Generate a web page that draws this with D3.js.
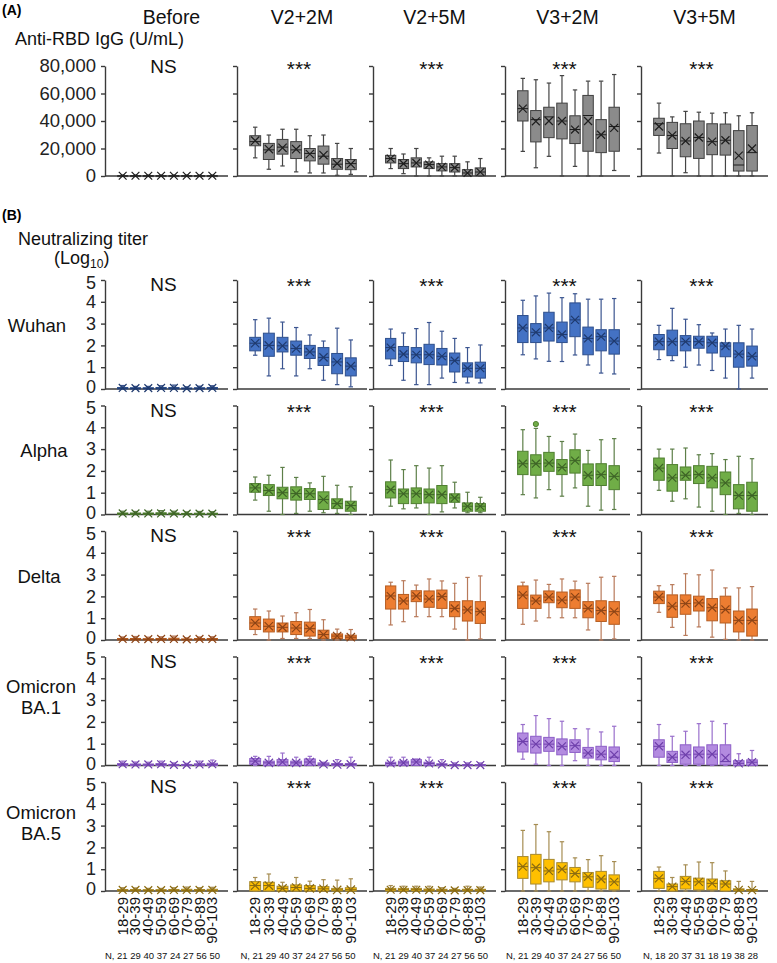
<!DOCTYPE html>
<html><head><meta charset="utf-8">
<script src="https://cdn.jsdelivr.net/npm/d3@7"></script>
<style>body{margin:0;background:#fff} svg{font-family:Arial,"Liberation Sans",sans-serif}</style>
</head><body><svg id="c" width="777" height="963"></svg>
<script>
// ---------- data ----------
const ageGroups = ["18-29","30-39","40-49","50-59","60-69","70-79","80-89","90-103"];
const timepoints = ["Before","V2+2M","V2+5M","V3+2M","V3+5M"];
const significance = ["NS","***","***","***","***"];
const nLabels = ["N, 21 29 40 37 24 27 56 50","N, 21 29 40 37 24 27 56 50","N, 21 29 40 37 24 27 56 50","N, 21 29 40 37 24 27 56 50","N, 18 20 37 31 18 19 38 28"];
const rbdTicks = [0,20000,40000,60000,80000];
const titerTicks = [0,1,2,3,4,5];
const variants = [["Wuhan"],["Alpha"],["Delta"],["Omicron","BA.1"],["Omicron","BA.5"]];
// each box: [whiskerLow, Q1, median, Q3, whiskerHigh, mean]
const rbd = [
 [[0,0,100,300,700,200],[0,0,100,300,700,200],[0,0,100,300,700,200],[0,0,100,300,700,200],[0,0,100,300,700,200],[0,0,100,300,700,200],[0,0,100,300,700,200],[0,0,100,300,700,200]],
 [[13200,22000,25000,29300,35500,25700],[4900,12000,19000,23700,29800,19600],[7300,15900,21000,26600,34000,20500],[3000,12700,19000,25000,34000,19500],[2200,11000,16400,20000,29300,16000],[2200,8600,14400,21800,29800,15200],[500,4900,8600,12700,23700,9000],[1200,4600,9000,12000,20000,8600]],
 [[5400,9500,12700,15000,20000,12700],[1700,5400,9000,12000,16000,9000],[0,6600,9500,13200,20000,9500],[0,5400,8300,10300,13200,8300],[0,3700,6600,9000,14400,6600],[0,2900,6100,9000,14400,6100],[0,200,2200,4600,10300,2200],[0,200,2900,5900,12700,2900]],
 [[17900,40000,49000,62000,71000,49000],[6000,24800,41000,47600,70000,39800],[14300,27900,43000,50000,67600,40000],[0,27000,40000,53000,73000,40000],[7000,23600,33800,43800,62600,33800],[0,18000,44000,58600,69000,40000],[0,17000,30000,41000,69000,30000],[4000,18000,36000,50000,73800,35000]],
 [[16700,29500,38000,42000,53000,36000],[0,20000,29500,39000,43000,29500],[2400,14000,25500,38000,47000,25500],[0,12800,28000,40000,46400,28000],[0,15500,25000,38000,45700,25000],[0,15200,26000,37800,46000,26000],[0,3600,8000,33000,43800,14800],[0,3600,17000,36700,46000,20000]]
];
const wuhan = [
 [[0,0,0.03,0.07,0.16,0.05],[0,0,0.02,0.06,0.12,0.04],[0,0,0.02,0.06,0.12,0.04],[0,0,0.03,0.07,0.15,0.05],[0,0,0.03,0.07,0.18,0.05],[0,0,0.02,0.05,0.1,0.03],[0,0,0.02,0.06,0.13,0.04],[0,0,0.03,0.07,0.15,0.05]],
 [[1.55,1.75,2.1,2.37,3.18,2.1],[0.6,1.5,2.0,2.56,3.25,2.0],[0.93,1.7,1.98,2.37,3.07,1.98],[0.6,1.55,1.86,2.2,2.82,1.86],[0.93,1.4,1.7,2.0,2.48,1.7],[0.4,1.08,1.45,1.9,2.2,1.45],[0.2,0.7,1.24,1.63,2.79,1.24],[0.1,0.6,1.05,1.43,2.25,1.05]],
 [[1.08,1.38,1.9,2.32,2.75,1.9],[0.4,1.26,1.6,1.95,2.57,1.6],[0.2,1.2,1.57,1.9,2.77,1.57],[0.2,1.12,1.57,2.05,3.05,1.57],[0.5,1.1,1.5,1.86,2.65,1.5],[0.3,0.78,1.3,1.65,2.32,1.3],[0.28,0.55,0.95,1.2,1.9,0.95],[0.28,0.5,0.95,1.23,2.02,0.95]],
 [[1.57,2.13,2.8,3.37,4.07,2.8],[1.38,2.13,2.6,3.0,4.27,2.6],[1.27,2.2,2.8,3.52,4.4,2.8],[1.26,2.13,2.5,3.07,4.19,2.5],[1.56,2.4,3.17,3.95,4.37,3.17],[1.1,1.57,2.32,2.84,4.12,2.32],[0.73,1.75,2.4,2.72,4.12,2.4],[0.69,1.6,2.2,2.72,4.15,2.2]],
 [[1.35,1.8,2.17,2.5,2.92,2.17],[1.3,1.53,2.17,2.7,3.7,2.17],[1.0,1.75,2.17,2.45,3.2,2.17],[1.1,1.87,2.17,2.42,2.95,2.17],[0.85,1.65,2.12,2.42,2.57,2.12],[0.5,1.48,1.97,2.12,2.75,1.97],[0,1.0,1.6,2.12,2.92,1.6],[0.5,1.05,1.5,1.97,2.75,1.5]]
];
const alpha = [
 [[0,0,0.03,0.07,0.15,0.05],[0,0,0.03,0.07,0.14,0.05],[0,0,0.03,0.07,0.15,0.05],[0,0,0.03,0.08,0.18,0.05],[0,0,0.03,0.07,0.15,0.05],[0,0,0.02,0.05,0.12,0.04],[0,0,0.02,0.06,0.14,0.04],[0,0,0.02,0.06,0.13,0.04]],
 [[0.66,1.02,1.22,1.42,1.72,1.22],[0.15,0.87,1.1,1.37,1.8,1.1],[0,0.72,1.0,1.25,2.16,1.0],[0.05,0.66,0.96,1.27,1.7,0.96],[0.15,0.69,0.95,1.19,1.45,0.95],[0.08,0.23,0.69,1.04,1.75,0.69],[0.05,0.27,0.5,0.72,1.34,0.5],[0,0.15,0.41,0.61,1.27,0.41]],
 [[0.38,0.76,1.14,1.5,2.5,1.14],[0.26,0.5,0.95,1.17,2.06,0.95],[0.3,0.5,0.95,1.22,2.24,0.95],[0,0.53,0.91,1.17,2.13,0.91],[0.12,0.5,0.91,1.33,2.24,0.91],[0.3,0.56,0.76,0.95,1.48,0.76],[0.08,0.15,0.38,0.53,1.02,0.38],[0.08,0.15,0.38,0.5,0.79,0.38]],
 [[0.91,1.83,2.33,2.9,3.89,2.33],[0.76,1.8,2.33,2.74,3.95,2.33],[1.14,1.98,2.36,2.85,3.58,2.36],[0.84,1.83,2.16,2.52,3.35,2.16],[1.22,1.9,2.47,2.97,3.69,2.47],[0.38,1.33,1.8,2.32,2.94,1.8],[0.2,1.33,1.83,2.33,3.43,1.83],[0.23,1.14,1.75,2.24,3.48,1.75]],
 [[1.11,1.57,2.13,2.59,3.0,2.13],[0.61,1.07,1.68,2.29,3.0,1.68],[0.72,1.57,1.8,2.18,3.05,1.8],[0.34,1.42,1.83,2.24,2.74,1.83],[0.15,1.22,1.68,2.21,2.79,1.68],[0,0.91,1.45,1.95,2.52,1.45],[0.05,0.26,0.87,1.37,2.67,0.87],[0,0.15,0.87,1.48,2.56,0.87]]
];
const delta = [
 [[0,0,0.03,0.07,0.14,0.05],[0,0,0.03,0.07,0.16,0.05],[0,0,0.03,0.06,0.13,0.04],[0,0,0.03,0.07,0.15,0.05],[0,0,0.03,0.08,0.18,0.05],[0,0,0.02,0.05,0.1,0.03],[0,0,0.03,0.07,0.14,0.05],[0,0,0.03,0.07,0.15,0.05]],
 [[0.25,0.48,0.78,1.07,1.42,0.78],[0,0.37,0.63,0.96,1.33,0.63],[0.07,0.37,0.58,0.78,1.1,0.58],[0.07,0.25,0.55,0.85,1.25,0.55],[0.07,0.18,0.52,0.82,1.4,0.52],[0,0.07,0.25,0.45,0.93,0.25],[0,0.07,0.18,0.28,0.5,0.18],[0,0.03,0.13,0.22,0.48,0.13]],
 [[0.69,1.42,2.02,2.48,2.65,2.02],[0.84,1.42,1.79,2.09,2.72,1.79],[1.07,1.76,2.02,2.26,2.52,2.02],[1.07,1.5,1.88,2.25,2.8,1.88],[1.07,1.45,1.99,2.29,2.71,1.99],[0.5,1.07,1.45,1.76,2.6,1.45],[0,0.87,1.38,1.8,2.87,1.38],[0.05,0.76,1.3,1.76,2.94,1.3]],
 [[0.72,1.45,2.06,2.48,2.65,2.06],[0.87,1.45,1.79,2.06,2.75,1.79],[1.02,1.71,1.97,2.25,2.55,1.97],[1.02,1.48,1.83,2.2,2.8,1.83],[1.02,1.45,1.97,2.3,2.7,1.97],[0.46,1.02,1.45,1.76,2.6,1.45],[0,0.85,1.35,1.8,2.88,1.35],[0.05,0.72,1.3,1.76,2.92,1.3]],
 [[1.27,1.67,1.97,2.24,2.49,1.97],[0.58,1.04,1.55,2.07,2.54,1.55],[0.21,1.18,1.67,2.07,3.04,1.67],[0.6,1.33,1.7,2.01,2.99,1.7],[0.13,0.88,1.48,1.9,3.21,1.48],[0.03,0.78,1.4,2.01,2.39,1.4],[0,0.37,0.9,1.33,2.39,0.9],[0,0.18,0.9,1.42,2.45,0.9]]
];
const ba1 = [
 [[0,0,0.04,0.09,0.2,0.06],[0,0,0.03,0.07,0.16,0.05],[0,0,0.03,0.07,0.15,0.05],[0,0,0.04,0.09,0.2,0.06],[0,0,0.02,0.05,0.12,0.03],[0,0,0.02,0.05,0.1,0.03],[0,0,0.03,0.08,0.2,0.05],[0,0,0.04,0.1,0.25,0.06]],
 [[0,0.05,0.2,0.32,0.42,0.2],[0,0,0.12,0.2,0.42,0.12],[0,0,0.16,0.27,0.57,0.16],[0,0,0.12,0.2,0.38,0.12],[0,0,0.16,0.3,0.42,0.16],[0,0,0.06,0.12,0.15,0.06],[0,0,0.05,0.09,0.27,0.05],[0,0,0.05,0.09,0.38,0.05]],
 [[0,0,0.09,0.15,0.38,0.09],[0,0,0.12,0.2,0.38,0.12],[0,0,0.16,0.27,0.3,0.16],[0,0,0.09,0.15,0.38,0.09],[0,0,0.05,0.08,0.27,0.05],[0,0,0.02,0.04,0.12,0.02],[0,0,0.02,0.04,0.12,0.02],[0,0,0.02,0.04,0.12,0.02]],
 [[0.29,0.62,1.1,1.49,1.88,1.1],[0.06,0.57,0.98,1.34,2.29,0.98],[0,0.65,0.98,1.29,2.15,0.98],[0,0.49,0.88,1.22,2.03,0.88],[0.22,0.6,0.91,1.18,1.69,0.91],[0,0.34,0.57,0.83,1.68,0.57],[0,0.26,0.52,0.88,1.54,0.52],[0,0.18,0.38,0.85,1.8,0.49]],
 [[0,0.38,0.88,1.18,1.88,0.88],[0,0.14,0.38,0.65,1.34,0.38],[0,0.06,0.49,0.95,1.57,0.49],[0,0.06,0.52,0.85,1.92,0.52],[0,0.03,0.52,0.95,2.03,0.52],[0,0.03,0.18,0.95,1.92,0.35],[0,0,0.1,0.22,0.54,0.1],[0,0,0.15,0.26,0.69,0.15]]
];
const ba5 = [
 [[0,0,0.03,0.07,0.15,0.05],[0,0,0.03,0.07,0.14,0.05],[0,0,0.03,0.06,0.12,0.04],[0,0,0.03,0.06,0.12,0.04],[0,0,0.03,0.07,0.15,0.05],[0,0,0.03,0.08,0.18,0.05],[0,0,0.03,0.07,0.15,0.05],[0,0,0.03,0.08,0.17,0.05]],
 [[0,0,0.25,0.43,0.62,0.25],[0,0,0.25,0.4,0.78,0.25],[0,0,0.12,0.22,0.4,0.12],[0,0,0.16,0.28,0.62,0.16],[0,0,0.12,0.25,0.45,0.12],[0,0,0.1,0.2,0.52,0.1],[0,0,0.05,0.12,0.5,0.05],[0,0,0.06,0.15,0.56,0.06]],
 [[0,0,0.06,0.12,0.25,0.06],[0,0,0.06,0.12,0.22,0.06],[0,0,0.06,0.12,0.22,0.06],[0,0,0.04,0.09,0.22,0.04],[0,0,0.04,0.08,0.15,0.04],[0,0,0.03,0.06,0.12,0.03],[0,0,0.04,0.08,0.22,0.04],[0,0,0.04,0.08,0.18,0.04]],
 [[0,0.58,1.12,1.58,2.78,1.12],[0,0.32,1.07,1.68,3.05,1.07],[0,0.42,0.92,1.45,2.72,0.92],[0,0.51,1.0,1.3,2.26,1.0],[0,0.42,0.8,1.08,1.52,0.8],[0,0.17,0.65,0.85,1.44,0.65],[0,0.09,0.55,0.9,1.62,0.55],[0,0.05,0.42,0.74,1.35,0.42]],
 [[0,0.12,0.58,0.9,1.1,0.58],[0,0,0.2,0.32,0.62,0.2],[0,0.09,0.44,0.67,1.2,0.44],[0,0.05,0.42,0.59,1.33,0.42],[0,0.05,0.35,0.55,1.3,0.35],[0,0,0.32,0.47,0.92,0.32],[0,0,0.05,0.1,0.44,0.05],[0,0,0.04,0.07,0.44,0.04]]
];
const titerRows = [wuhan, alpha, delta, ba1, ba5];
// outlier: [row index, timepoint index, age index, value]
const outliers = [[1,3,1,4.15]];

// ---------- styles / layout ----------
const grayPal = {fill:"#8b8b8b", stroke:"#3f3f3f", whisker:"#444", mark:"#1e1e1e"};
const rowPal = [
 {fill:"#4472c4", stroke:"#2e4f8c", whisker:"#3b5590", mark:"#1f3a6e"},
 {fill:"#70ad47", stroke:"#4f7f30", whisker:"#5d7f48", mark:"#3d6326"},
 {fill:"#ed7d31", stroke:"#b55d22", whisker:"#b87a5a", mark:"#8c4416"},
 {fill:"#b38be0", stroke:"#8d5fc7", whisker:"#9a70cc", mark:"#6e3fab"},
 {fill:"#ffc000", stroke:"#a88a2e", whisker:"#a68d52", mark:"#8a6a10"}
];
const px0 = [105,237,373,505,641], px1 = [228,367,496,630,768];
const axisColor = "#3a3a3a";
const svg = d3.select("#c");

function panel(stats, y, i, pal, sig, ticks, fmt, isA) {
  const g = svg.append("g");
  const x = d3.scaleBand().domain(ageGroups).range([px0[i]+10, px1[i]-8]).paddingInner(0.2).paddingOuter(0.2);
  const bw = x.bandwidth();
  const ax = d3.axisLeft(y).tickValues(ticks).tickSize(4).tickSizeOuter(0).tickPadding(5)
     .tickFormat(i===0 ? fmt : "");
  const ga = g.append("g").attr("transform",`translate(${px0[i]},0)`).call(ax);
  ga.selectAll("path,line").attr("stroke",axisColor).attr("stroke-width",1.4);
  ga.selectAll("text").attr("font-size", isA ? 18.5 : 18).attr("fill","#222")
    .attr("font-family","Arial, Liberation Sans, sans-serif")
    .attr("dy", d => isA ? "0.32em" : (d===0 ? "0.22em" : (d===5 ? "0.45em" : "0.32em")));
  g.append("line").attr("x1",px0[i]).attr("x2",px1[i]).attr("y1",y(0)).attr("y2",y(0))
    .attr("stroke",axisColor).attr("stroke-width",1.5);
  stats.forEach((d,k)=>{
    const cx = x(ageGroups[k]) + bw/2;
    const [lo,q1,med,q3,hi,mean] = d;
    const bg = g.append("g");
    bg.append("line").attr("x1",cx).attr("x2",cx).attr("y1",y(hi)).attr("y2",y(q3)).attr("stroke",pal.whisker).attr("stroke-width",1.2);
    bg.append("line").attr("x1",cx).attr("x2",cx).attr("y1",y(q1)).attr("y2",y(lo)).attr("stroke",pal.whisker).attr("stroke-width",1.2);
    [hi,lo].forEach(v=>bg.append("line").attr("x1",cx-2.2).attr("x2",cx+2.2).attr("y1",y(v)).attr("y2",y(v)).attr("stroke",pal.whisker).attr("stroke-width",1.2));
    const top = y(q3), h = Math.max(y(q1)-y(q3), 1);
    bg.append("rect").attr("x",cx-bw/2).attr("y",top).attr("width",bw).attr("height",h)
      .attr("fill",pal.fill).attr("stroke",pal.stroke).attr("stroke-width",1);
    bg.append("line").attr("x1",cx-bw/2).attr("x2",cx+bw/2).attr("y1",y(med)).attr("y2",y(med)).attr("stroke",pal.mark).attr("stroke-width",1);
    const s = bw*0.38, my = y(mean);
    bg.append("path").attr("d",`M${cx-s},${my-s}L${cx+s},${my+s}M${cx-s},${my+s}L${cx+s},${my-s}`)
      .attr("stroke",pal.mark).attr("stroke-width",1.2).attr("fill","none");
  });
  const top = y.range()[1];
  const cxp = (px0[i]+px1[i])/2;
  if (i===0) {
    g.append("text").attr("x",cxp-3).attr("y", isA ? top+7 : top+11)
      .attr("text-anchor","middle").attr("font-size",19).attr("fill","#111").text(sig);
  } else {
    g.append("text").attr("x",cxp-3).attr("y", isA ? top+10 : top+13)
      .attr("text-anchor","middle").attr("font-size",21).attr("fill","#111").text(sig);
  }
  return x;
}

// ---------- header ----------
svg.append("text").attr("x",2).attr("y",15).attr("font-size",14).attr("font-weight","bold").text("(A)");
timepoints.forEach((t,i)=>svg.append("text").attr("x",(px0[i]+px1[i])/2 + (i===0?5:0)).attr("y",24)
  .attr("text-anchor","middle").attr("font-size",19.5).attr("fill","#111").text(t));
svg.append("text").attr("x",15).attr("y",45).attr("font-size",18).attr("fill","#111").text("Anti-RBD IgG (U/mL)");

// ---------- panel A ----------
const yA = d3.scaleLinear().domain([0,80000]).range([176,66]);
rbd.forEach((st,i)=>panel(st, yA, i, grayPal, significance[i], rbdTicks, d3.format(","), true));

// ---------- panel B ----------
svg.append("text").attr("x",2).attr("y",220).attr("font-size",14).attr("font-weight","bold").text("(B)");
svg.append("text").attr("x",18).attr("y",245).attr("font-size",18).attr("fill","#111").text("Neutralizing titer");
const lg = svg.append("text").attr("x",54).attr("y",264).attr("font-size",18).attr("fill","#111");
lg.append("tspan").text("(Log");
lg.append("tspan").attr("font-size",12).attr("dy",4).text("10");
lg.append("tspan").attr("dy",-4).text(")");

const rowLabelX = [37,44,39,41,41];
titerRows.forEach((row,r)=>{
  const top = 280 + r*125.5;
  const y = d3.scaleLinear().domain([0,5]).range([top+109, top]);
  const xs = row.map((st,i)=>panel(st, y, i, rowPal[r], significance[i], titerTicks, d3.format("d"), false));
  const lines = variants[r];
  const cy = y(3) + (lines.length===1 ? 8 : -1);
  lines.forEach((t,j)=>svg.append("text").attr("x",rowLabelX[r]).attr("y", cy + j*21 - (lines.length-1)*6)
    .attr("text-anchor","middle").attr("font-size",18.5).attr("fill","#111").text(t));
  outliers.filter(o=>o[0]===r).forEach(o=>{
    const x = xs[o[1]];
    svg.append("circle").attr("cx",x(ageGroups[o[2]])+x.bandwidth()/2).attr("cy",y(o[3])).attr("r",2.6)
      .attr("fill",rowPal[r].fill).attr("stroke",rowPal[r].stroke).attr("stroke-width",1);
  });
  if (r===titerRows.length-1) {
    xs.forEach((x,i)=>{
      ageGroups.forEach(a=>{
        svg.append("text").attr("transform",`translate(${x(a)+x.bandwidth()/2+5},897) rotate(-90)`)
          .attr("text-anchor","end").attr("font-size",15).attr("fill","#111").text(a);
      });
      svg.append("text").attr("x",(px0[i]+px1[i])/2 - 4).attr("y",959).attr("text-anchor","middle")
        .attr("font-size",9.5).attr("fill","#111").text(nLabels[i]);
    });
  }
});
</script></body></html>
